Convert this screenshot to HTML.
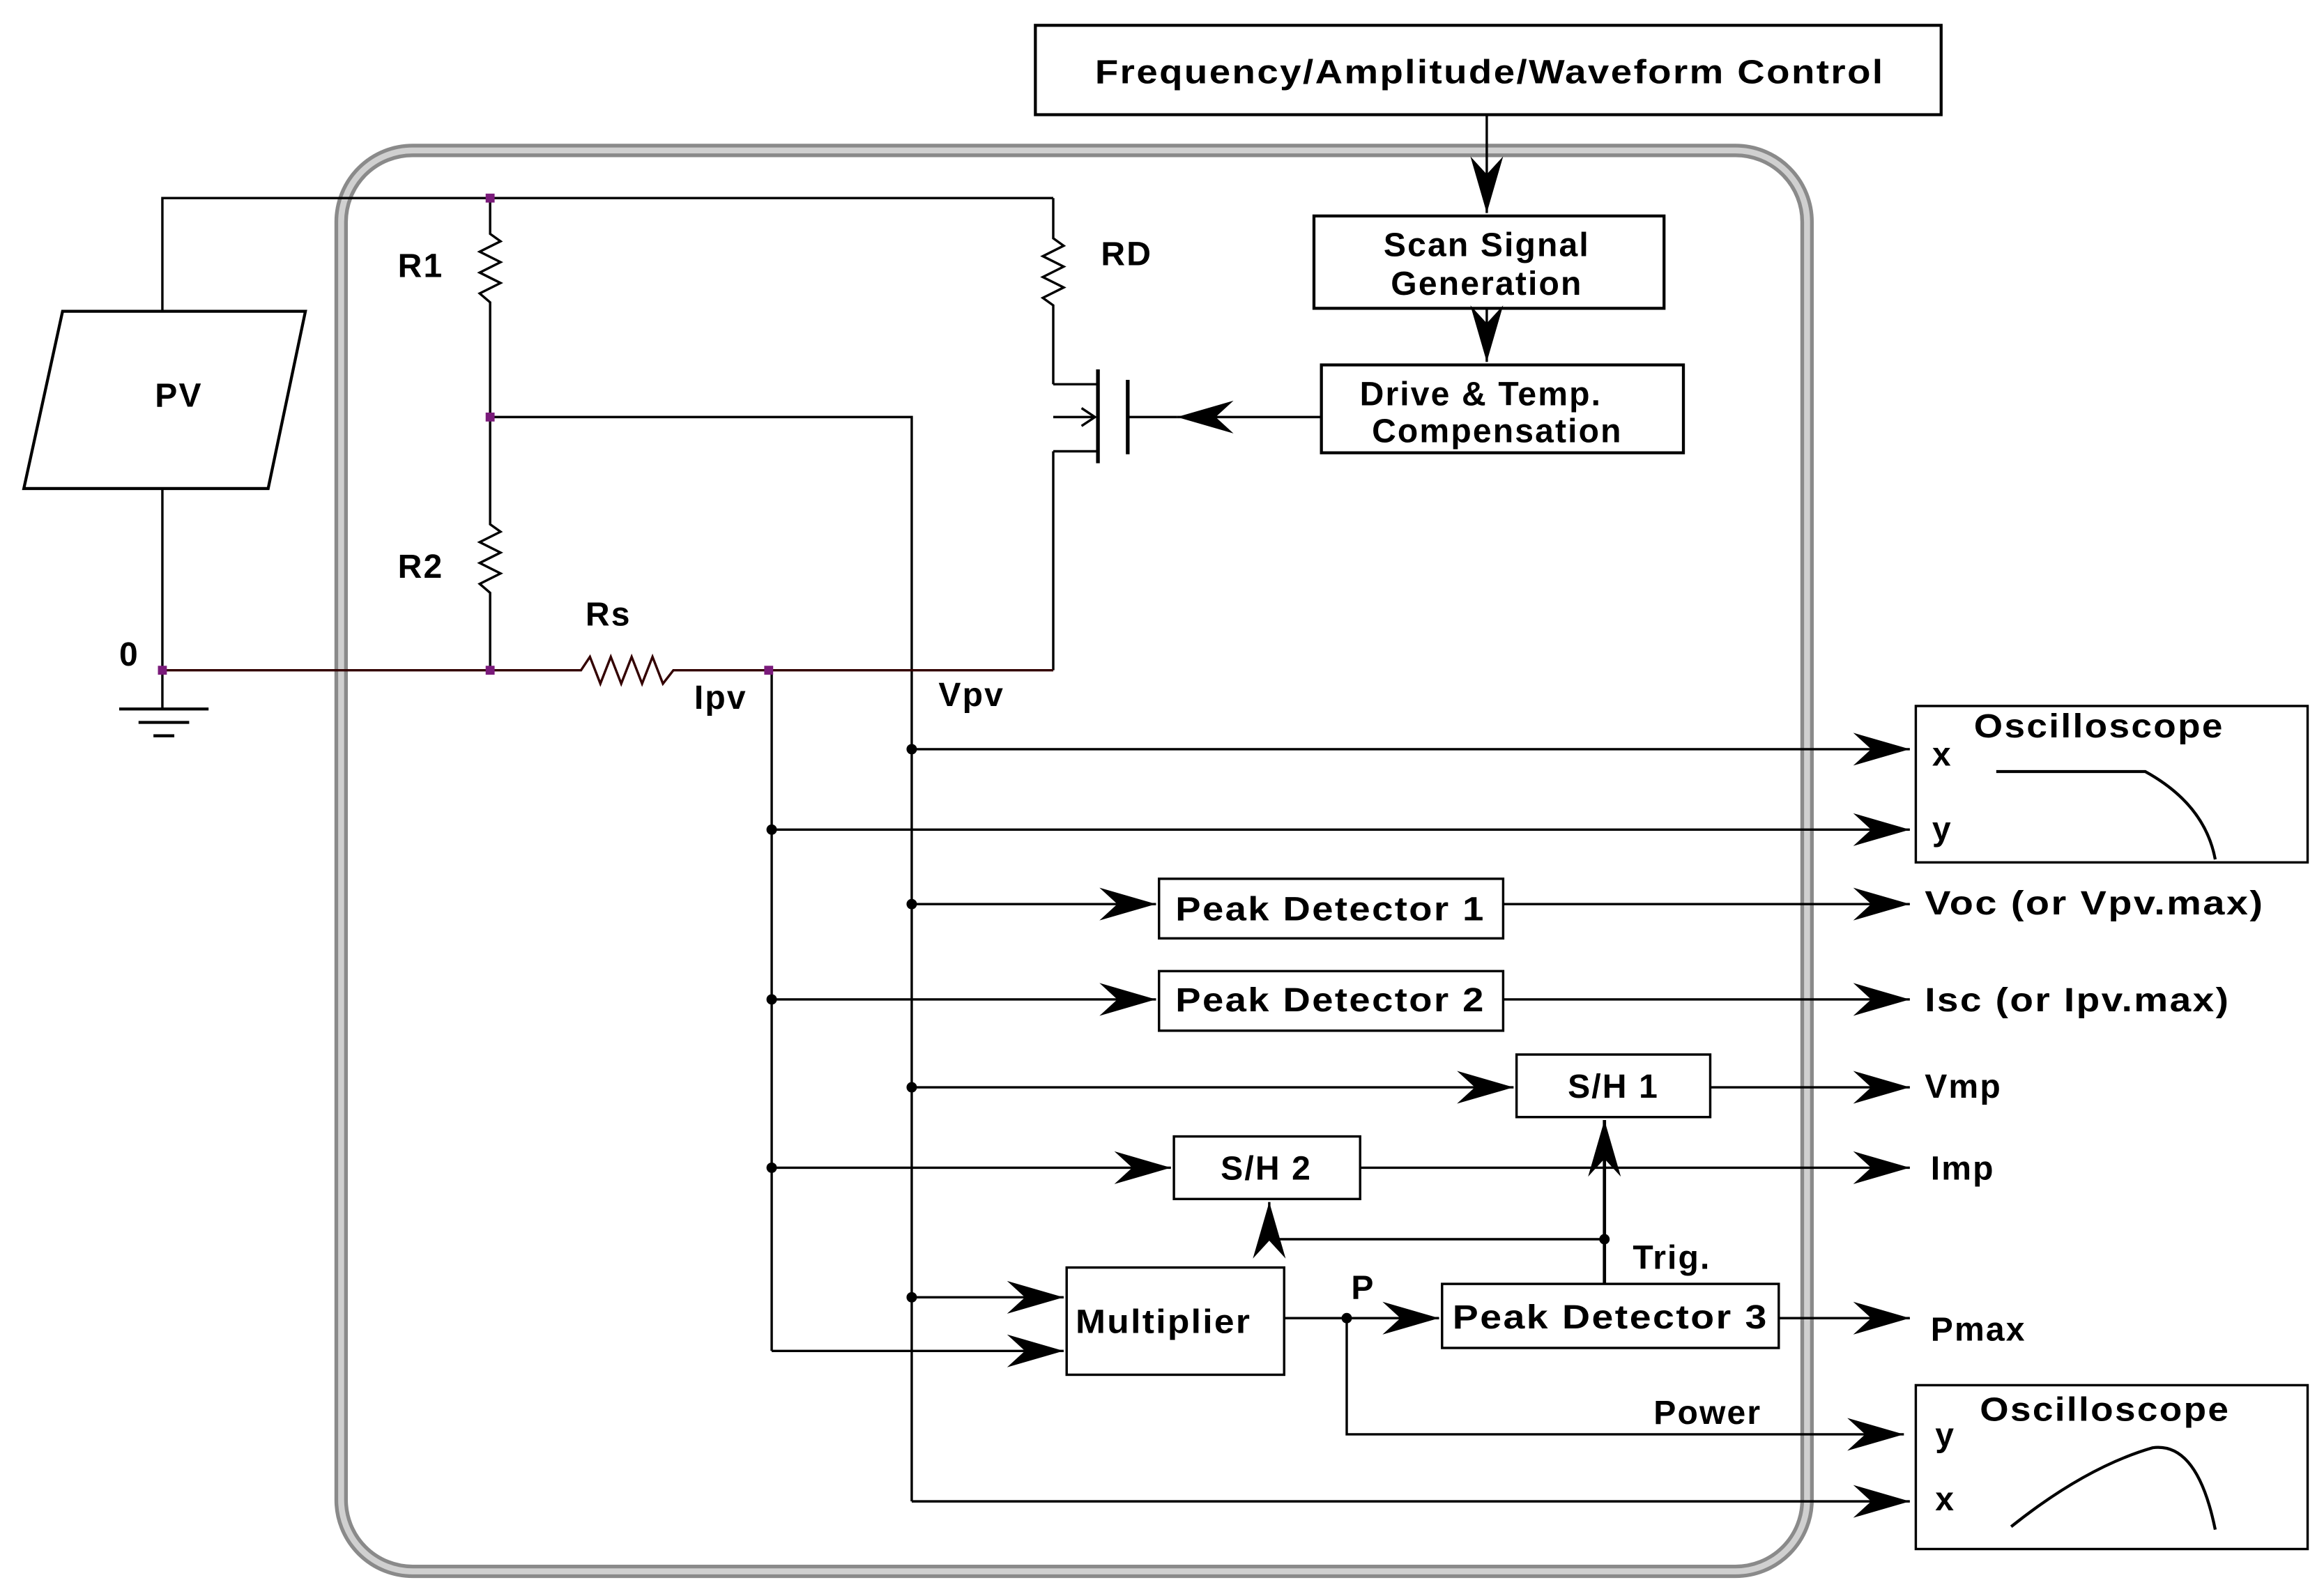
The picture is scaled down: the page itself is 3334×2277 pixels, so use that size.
<!DOCTYPE html>
<html><head><meta charset="utf-8"><style>
html,body{margin:0;padding:0;background:#fff;}
svg{display:block;}
text{font-family:"Liberation Sans",sans-serif;fill:#000;font-weight:bold;letter-spacing:1px;}
</style></head><body>
<svg width="3334" height="2277" viewBox="0 0 1560 1065.5" preserveAspectRatio="none" xmlns="http://www.w3.org/2000/svg">
<defs>
<marker id="a" markerUnits="userSpaceOnUse" markerWidth="50" markerHeight="30" viewBox="-40 -15 42 30" refX="0" refY="0" orient="auto">
<path d="M0,0 L-38,-11 L-26,0 L-38,11 Z" fill="#000"/>
</marker>
</defs>
<rect x="0" y="0" width="1560" height="1066" fill="#fff"/>
<rect x="229" y="101" width="984" height="954" rx="48" fill="none" stroke="#8a8a8a" stroke-width="9"/>
<rect x="229" y="101" width="984" height="954" rx="48" fill="none" stroke="#d0d0d0" stroke-width="4"/>

<g fill="none" stroke="#000" stroke-width="1.6">
<rect x="695" y="17" width="608" height="60" stroke-width="2"/>
<rect x="882" y="145" width="235" height="62" stroke-width="2"/>
<rect x="887" y="245" width="243" height="59" stroke-width="2"/>
<line x1="998" y1="77" x2="998" y2="143" marker-end="url(#a)"/>
<line x1="998" y1="207" x2="998" y2="243" marker-end="url(#a)"/>
<line x1="887" y1="280" x2="790" y2="280" marker-end="url(#a)"/>
<line x1="790" y1="280" x2="757" y2="280"/>
<line x1="757" y1="255" x2="757" y2="305" stroke-width="2.5"/>
<line x1="737" y1="248" x2="737" y2="311" stroke-width="2.5"/>
<line x1="707" y1="258" x2="737" y2="258"/>
<line x1="707" y1="303" x2="737" y2="303"/>
<line x1="707" y1="280" x2="735" y2="280"/>
<path d="M726,274 L735,280 L726,286"/>
<polyline points="707,133 707,160 714,165 700,172 714,179 700,186 714,193 700,200 707,205 707,258"/>
<line x1="707" y1="303" x2="707" y2="450"/>
<polyline points="109,209 109,133 707,133"/>
<line x1="109" y1="328" x2="109" y2="476"/>
<polygon points="42,209 205,209 180,328 16,328" stroke-width="2"/>
<polyline points="329,133 329,157 336,162 322,169 336,176 322,183 336,190 322,197 329,203 329,352 336,357 322,364 336,371 322,378 336,385 322,392 329,398 329,450"/>
<polyline points="329,280 612,280 612,1008"/>
<polyline points="109,450 390,450 396,441 403,459 410,441 417,459 424,441 431,459 438,441 445,459 452,450 707,450" stroke="#300"/>
<line x1="80" y1="476" x2="140" y2="476" stroke-width="2"/>
<line x1="93" y1="485" x2="127" y2="485" stroke-width="2"/>
<line x1="103" y1="494" x2="117" y2="494" stroke-width="2"/>
<line x1="518" y1="450" x2="518" y2="907"/>
<line x1="612" y1="503" x2="1282" y2="503" marker-end="url(#a)"/>
<line x1="518" y1="557" x2="1282" y2="557" marker-end="url(#a)"/>
<line x1="612" y1="607" x2="776" y2="607" marker-end="url(#a)"/>
<rect x="778" y="590" width="231" height="40"/>
<line x1="1009" y1="607" x2="1282" y2="607" marker-end="url(#a)"/>
<line x1="518" y1="671" x2="776" y2="671" marker-end="url(#a)"/>
<rect x="778" y="652" width="231" height="40"/>
<line x1="1009" y1="671" x2="1282" y2="671" marker-end="url(#a)"/>
<line x1="612" y1="730" x2="1016" y2="730" marker-end="url(#a)"/>
<rect x="1018" y="708" width="130" height="42"/>
<line x1="1148" y1="730" x2="1282" y2="730" marker-end="url(#a)"/>
<line x1="518" y1="784" x2="786" y2="784" marker-end="url(#a)"/>
<rect x="788" y="763" width="125" height="42"/>
<line x1="913" y1="784" x2="1282" y2="784" marker-end="url(#a)"/>
<line x1="1077" y1="862" x2="1077" y2="752" marker-end="url(#a)" stroke-width="2.2"/>
<polyline points="1077,832 852,832 852,807" marker-end="url(#a)"/>
<rect x="716" y="851" width="146" height="72"/>
<line x1="612" y1="871" x2="714" y2="871" marker-end="url(#a)"/>
<line x1="518" y1="907" x2="714" y2="907" marker-end="url(#a)"/>
<line x1="862" y1="885" x2="966" y2="885" marker-end="url(#a)"/>
<rect x="968" y="862" width="226" height="43"/>
<line x1="1194" y1="885" x2="1282" y2="885" marker-end="url(#a)"/>
<polyline points="904,885 904,963 1278,963" marker-end="url(#a)"/>
<line x1="612" y1="1008" x2="1282" y2="1008" marker-end="url(#a)"/>
<rect x="1286" y="474" width="263" height="105"/>
<path d="M1340,518 L1440,518 Q1480,540 1487,577" stroke-width="2"/>
<rect x="1286" y="930" width="263" height="110"/>
<path d="M1350,1025 Q1400,985 1445,972 Q1475,968 1487,1027" stroke-width="2"/>
</g>
<g fill="#000">
<circle cx="612" cy="503" r="3.5"/><circle cx="612" cy="607" r="3.5"/>
<circle cx="612" cy="730" r="3.5"/><circle cx="612" cy="871" r="3.5"/>
<circle cx="518" cy="557" r="3.5"/><circle cx="518" cy="671" r="3.5"/>
<circle cx="518" cy="784" r="3.5"/><circle cx="1077" cy="832" r="3.5"/>
<circle cx="904" cy="885" r="3.5"/>
</g>
<g fill="#7a1a7a">
<rect x="326" y="130" width="6" height="6"/><rect x="326" y="277" width="6" height="6"/>
<rect x="326" y="447" width="6" height="6"/><rect x="106" y="447" width="6" height="6"/>
<rect x="513" y="447" width="6" height="6"/>
</g>
<g font-size="22.5">
<text x="1000" y="56" text-anchor="middle" textLength="530" lengthAdjust="spacingAndGlyphs">Frequency/Amplitude/Waveform Control</text>
<text x="998" y="172" text-anchor="middle">Scan Signal</text>
<text x="998" y="198" text-anchor="middle">Generation</text>
<text x="994" y="272" text-anchor="middle">Drive &amp; Temp.</text>
<text x="1005" y="297" text-anchor="middle">Compensation</text>
<text x="120" y="273" text-anchor="middle">PV</text>
<text x="267" y="186">R1</text>
<text x="267" y="388">R2</text>
<text x="739" y="178">RD</text>
<text x="393" y="420">Rs</text>
<text x="80" y="447">0</text>
<text x="466" y="476">Ipv</text>
<text x="630" y="474">Vpv</text>
<text x="893" y="618" text-anchor="middle" textLength="208" lengthAdjust="spacingAndGlyphs">Peak Detector 1</text>
<text x="893" y="679" text-anchor="middle" textLength="208" lengthAdjust="spacingAndGlyphs">Peak Detector 2</text>
<text x="1083" y="737" text-anchor="middle">S/H 1</text>
<text x="850" y="792" text-anchor="middle">S/H 2</text>
<text x="1096" y="852">Trig.</text>
<text x="781" y="895" text-anchor="middle" textLength="118" lengthAdjust="spacingAndGlyphs">Multiplier</text>
<text x="907" y="872">P</text>
<text x="1081" y="892" text-anchor="middle" textLength="212" lengthAdjust="spacingAndGlyphs">Peak Detector 3</text>
<text x="1110" y="956">Power</text>
<text x="1292" y="614" textLength="228" lengthAdjust="spacingAndGlyphs">Voc (or Vpv.max)</text>
<text x="1292" y="679" textLength="205" lengthAdjust="spacingAndGlyphs">Isc (or Ipv.max)</text>
<text x="1292" y="737">Vmp</text>
<text x="1296" y="792">Imp</text>
<text x="1296" y="900">Pmax</text>
<text x="1325" y="495" textLength="168" lengthAdjust="spacingAndGlyphs">Oscilloscope</text>
<text x="1297" y="514">x</text>
<text x="1297" y="564">y</text>
<text x="1329" y="954" textLength="168" lengthAdjust="spacingAndGlyphs">Oscilloscope</text>
<text x="1299" y="971">y</text>
<text x="1299" y="1014">x</text>
</g>
</svg>
</body></html>
